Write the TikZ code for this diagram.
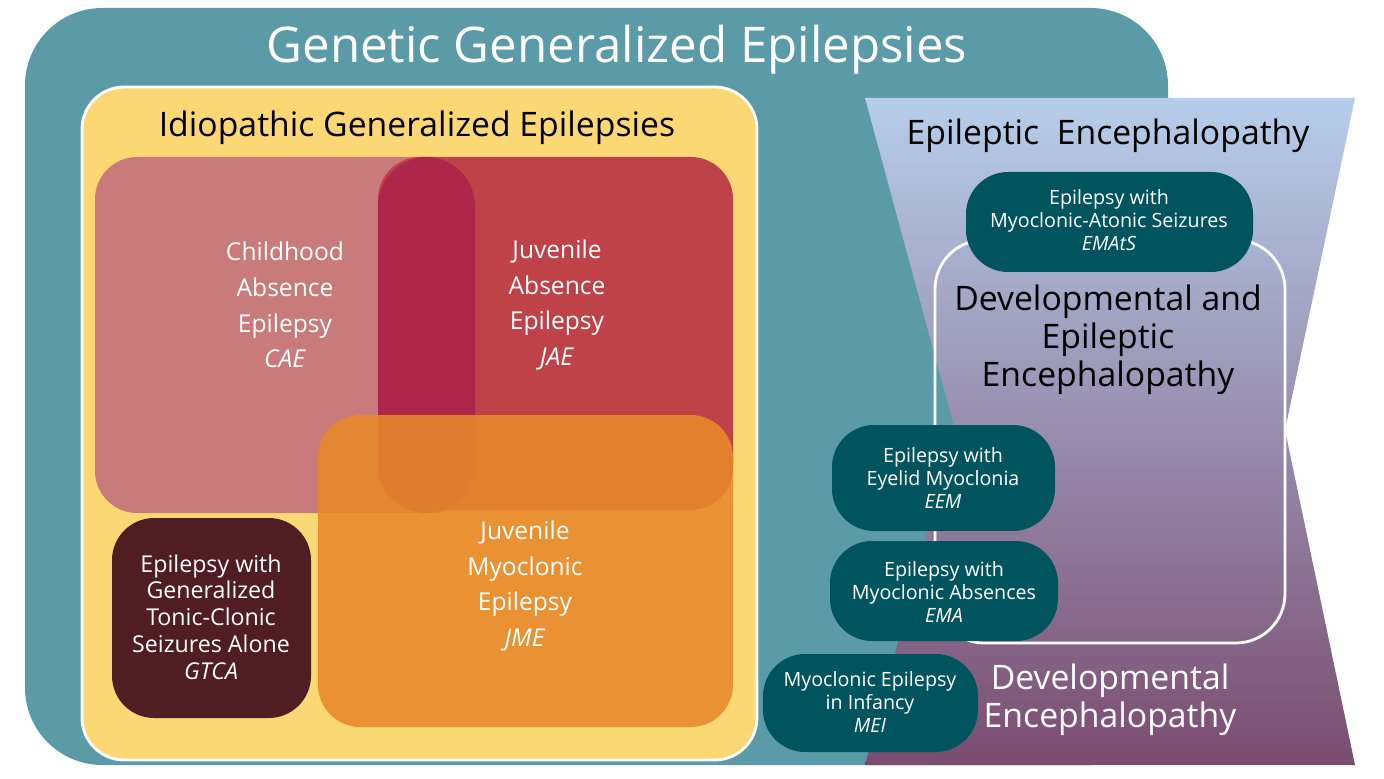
\documentclass[tikz,border=0pt]{standalone}
\usepackage{fontspec}
\setmainfont{Open Sans}
\begin{document}
\begin{tikzpicture}[x=0.1mm,y=-0.1mm]

% estilos
\tikzstyle{caja}   = [rounded corners=12pt]
\tikzstyle{rotulo} = [align=center,text=white,font=\fontsize{7}{10.2}\selectfont]
\tikzstyle{chico}  = [align=center,text=white,font=\fontsize{5.6}{6.6}\selectfont]
\definecolor{fondo}{HTML}{5A9BA7}
\definecolor{amarillo}{HTML}{FBD873}
\definecolor{rosa}{HTML}{C97A7A}
\definecolor{rojo}{HTML}{BE4247}
\definecolor{cruce}{HTML}{AE2649}
\definecolor{naranja}{HTML}{E8892B}
\definecolor{vino}{HTML}{4F1D22}
\definecolor{petroleo}{HTML}{00545E}
\definecolor{celeste}{HTML}{B6CEEB}
\definecolor{morado}{HTML}{7A4C70}

\useasboundingbox (0,0) rectangle (1384,779);

% fondo general
\fill[fondo,rounded corners=22pt] (25,8) rectangle (1168,765);
\node (gge) at (617,50) [text=white,font=\fontsize{14}{16}\selectfont] {Genetic Generalized Epilepsies};

% reloj de arena
\shade[top color=celeste,bottom color=morado]
  (865,98) -- (1355,98) -- (1285,430) -- (1355,765) -- (865,765) -- (955,430) -- cycle;

% epilepsias idiopaticas
\draw[white,thick,fill=amarillo,caja] (82,87) rectangle (757,760);
\node (ige) at (417,128) [font=\fontsize{9.6}{11}\selectfont] {Idiopathic Generalized Epilepsies};
\fill[rosa,caja] (95,157) rectangle (475,513);
\fill[rojo,caja] (378,157) rectangle (733,510);
\fill[cruce,rounded corners=14pt] (378,157) rectangle (475,513);
\fill[naranja,opacity=0.88,caja] (318,415) rectangle (733,727);
\fill[vino,caja] (112,518) rectangle (311,718);

\node (cae) at (285,305) [rotulo] {Childhood\\Absence\\Epilepsy\\\textit{CAE}};
\node (jae) at (557,305) [rotulo] {Juvenile\\Absence\\Epilepsy\\\textit{JAE}};
\node (jme) at (525,586) [rotulo] {Juvenile\\Myoclonic\\Epilepsy\\\textit{JME}};
\node (gtca) at (211,617) [rotulo,font=\fontsize{6.6}{7.6}\selectfont] {Epilepsy with\\Generalized\\Tonic-Clonic\\Seizures Alone\\\textit{GTCA}};

% encefalopatias
\node (ee) at (1108,136) [font=\fontsize{9.6}{11}\selectfont] {Epileptic\ \ Encephalopathy};
\draw[white,thick,rounded corners=14pt] (935,240) rectangle (1285,643);
\node (dee) at (1108,340) [align=center,font=\fontsize{9.6}{10.8}\selectfont] {Developmental and\\Epileptic\\Encephalopathy};
\node (de) at (1110,700) [align=center,text=white,font=\fontsize{9.6}{10.8}\selectfont] {Developmental\\Encephalopathy};

\fill[petroleo,caja] (966,172) rectangle (1253,272);
\node (emats) at (1109,220) [chico] {Epilepsy with\\Myoclonic-Atonic Seizures\\\textit{EMAtS}};
\fill[petroleo,caja] (832,425) rectangle (1055,531);
\node (eem) at (943,478) [chico] {Epilepsy with\\Eyelid Myoclonia\\\textit{EEM}};
\fill[petroleo,caja] (830,541) rectangle (1058,641);
\node (ema) at (944,592) [chico] {Epilepsy with\\Myoclonic Absences\\\textit{EMA}};
\fill[petroleo,caja] (763,654) rectangle (978,752);
\node (mei) at (870,702) [chico] {Myoclonic Epilepsy\\in Infancy\\\textit{MEI}};

\end{tikzpicture}
\end{document}
